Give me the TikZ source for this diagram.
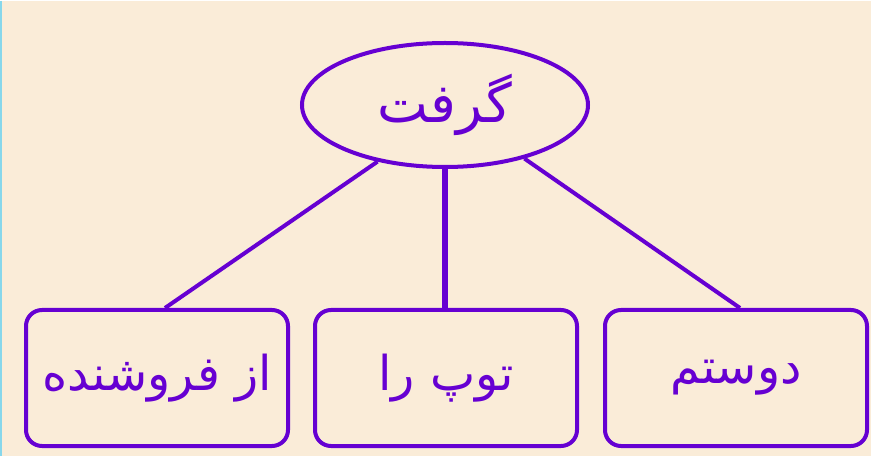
\documentclass[tikz,border=0pt]{standalone}
\usepackage{fontspec}
\newfontfamily\arabicfont[Script=Arabic]{DejaVu Sans}
\TeXXeTstate=1
\definecolor{paper}{RGB}{250,236,216}
\definecolor{ink}{RGB}{102,0,210}
\definecolor{edge}{RGB}{135,215,235}
\usetikzlibrary{shapes.geometric}
\tikzset{
  head/.style={ellipse, draw=ink, line width=4pt, text=ink,
               minimum width=286pt, minimum height=124pt, inner sep=0pt,
               font=\fontsize{54}{60}\arabicfont},
  part/.style={rectangle, rounded corners=16pt, draw=ink, line width=4pt, text=ink,
               minimum width=262pt, minimum height=136pt, inner sep=0pt,
               font=\fontsize{48}{56}\arabicfont},
  link/.style={ink, line width=4pt},
}
\begin{document}
\begin{tikzpicture}[x=1pt,y=-1pt]
  \fill[paper] (0,0) rectangle (871,455);
  \draw[edge,line width=2pt] (1,0) -- (1,455);
  \node[head] (verb) at (445,104) {\beginR گرفت\endR};
  \node[part] (from) at (157,377) {\beginR از فروشنده\endR};
  \node[part] (ball) at (446,377) {\beginR توپ را\endR};
  \node[part] (friend) at (736,377) {\beginR دوستم\endR};
  \draw[link] (verb.220) -- ([xshift=8pt]from.north);
  \draw[link,line width=6pt] (verb.south) -- (verb.south |- ball.north);
  \draw[link] (verb.326) -- ([xshift=4pt]friend.north);
\end{tikzpicture}
\end{document}
